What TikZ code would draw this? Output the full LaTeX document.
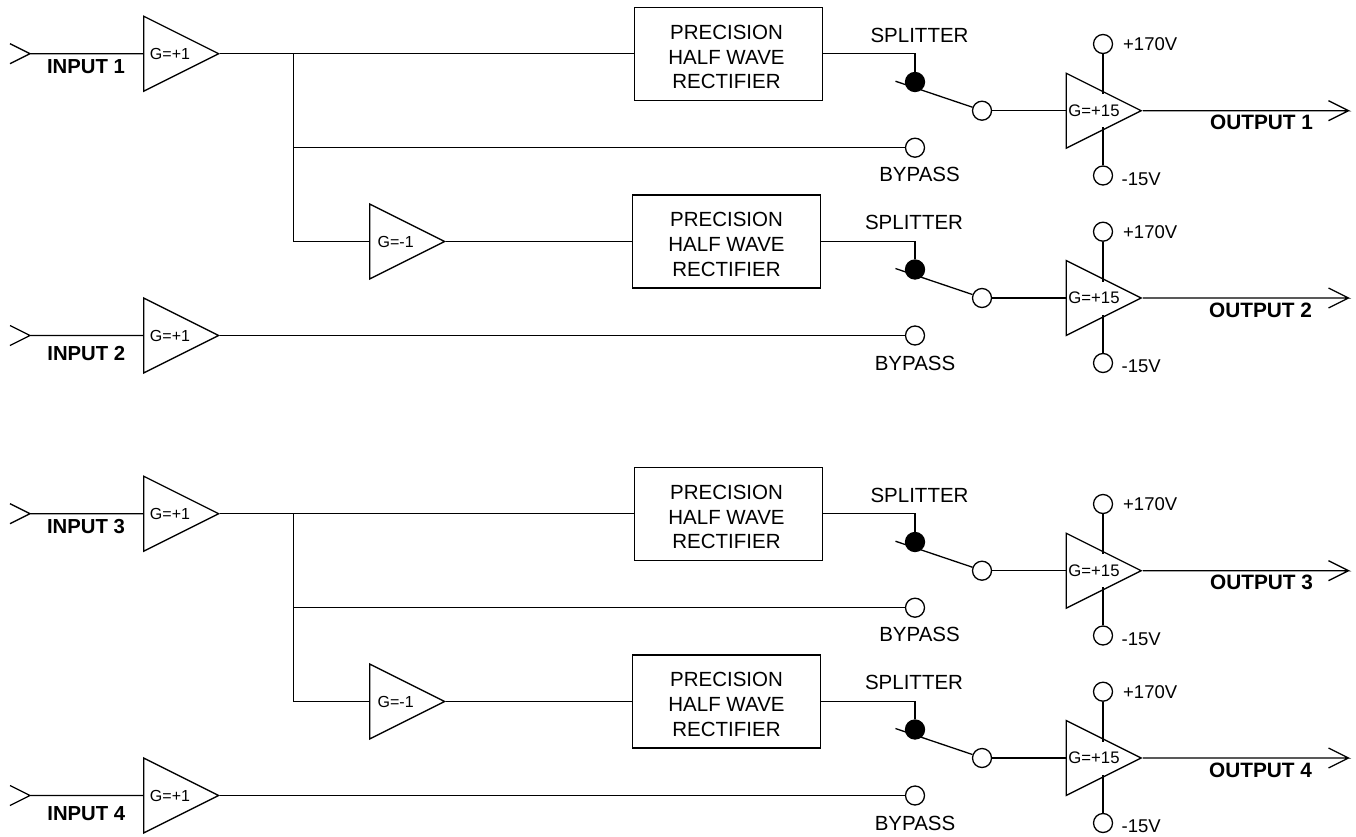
\documentclass[tikz,border=0pt]{standalone}
\usepackage{fontspec}
\setmainfont{Liberation Sans}
\usetikzlibrary{shapes.geometric}

\tikzset{
	amp/.style={isosceles triangle, isosceles triangle stretches, draw, fill=white, inner sep=0pt, minimum width=75pt, minimum height=75pt, anchor=lower side},
	gain/.style={font=\fontsize{16}{18}\selectfont, inner sep=0pt},
	drvgain/.style={font=\fontsize{16.7}{18}\selectfont, inner sep=0pt},
	rectifier/.style={rectangle, draw, minimum width=188pt, minimum height=93pt, inner sep=0pt},
	recttext/.style={align=center, inner sep=0pt, font=\fontsize{20.5}{24.7}\selectfont},
	terminal/.style={circle, draw, fill=white, minimum size=19pt, inner sep=0pt},
	contact/.style={terminal, fill=black},
	tag/.style={font=\fontsize{20.5}{24}\selectfont, inner sep=0pt},
	supply/.style={font=\fontsize{18.5}{22}\selectfont, inner sep=0pt, anchor=west},
	intag/.style={font=\fontsize{20.3}{24}\selectfont\bfseries, inner sep=0pt},
	outtag/.style={font=\fontsize{20.8}{24}\selectfont\bfseries, inner sep=0pt},
}

\begin{document}
\begin{tikzpicture}[x=1pt, y=-1pt, line width=1.3pt]
	\useasboundingbox (0, 0) rectangle (1356, 837);
	\foreach \yo/\ia/\ib in {0/1/2, 460/3/4} {
		% first input, rectifier channel and its output
		\coordinate (in\ia) at (30, \yo+53.7);
		\coordinate (junc\ia) at (293.3, \yo+53.7);
		\coordinate (out\ia) at (1348.5, \yo+110.7);
		\node [amp] (buf\ia) at (143, \yo+53.7) {};
		\node [gain] (gbuf\ia) at (170, \yo+53.7) {G=+1};
		\node [intag] (lin\ia) at (86, \yo+66.5) {INPUT \ia};
		\node [rectifier] (rect\ia) at (728.5, \yo+53.7) {};
		\node [recttext] (trect\ia) at (726.5, \yo+57) {PRECISION\\HALF WAVE\\RECTIFIER};
		\node [tag] (spl\ia) at (919.5, \yo+35) {SPLITTER};
		\node [terminal] (sw\ia) at (982, \yo+110.7) {};
		\draw (sw\ia.160) -- ++(-77, -26);
		\node [contact] (dot\ia) at (915, \yo+82) {};
		\node [terminal] (byp\ia) at (915, \yo+147.7) {};
		\node [tag] (lbyp\ia) at (919.5, \yo+174.5) {BYPASS};
		\node [amp] (drv\ia) at (1065.5, \yo+110.7) {};
		\node [drvgain] (gdrv\ia) at (1094, \yo+110.7) {G=+15};
		\node [terminal] (vp\ia) at (1103, \yo+44) {};
		\node [terminal] (vm\ia) at (1103, \yo+175.5) {};
		\node [supply] (lvp\ia) at (1122.5, \yo+44) {+170V};
		\node [supply] (lvm\ia) at (1121, \yo+179.5) {-15V};
		\node [outtag] (lout\ia) at (1261.5, \yo+122.5) {OUTPUT \ia};
		\draw (in\ia) -- ++(-20, -10) (in\ia) -- ++(-20, 10) (in\ia) -- (buf\ia.lower side);
		\draw (buf\ia.apex) -- (rect\ia.west);
		\draw (rect\ia.east) -| (dot\ia.north);
		\draw (sw\ia.east) -- (drv\ia.lower side);
		\draw (drv\ia.apex) -- (out\ia) -- ++(-20, -10) (out\ia) -- ++(-20, 10);
		\draw (vp\ia.south) -- ++(0, 40);
		\draw (vm\ia.north) -- ++(0, -38);
		\draw (junc\ia) |- (byp\ia.west);
		% inverted channel, second input and its output
		\coordinate (in\ib) at (30, \yo+335.5);
		\coordinate (out\ib) at (1348.5, \yo+298);
		\node [amp] (inv\ia) at (369, \yo+241.5) {};
		\node [gain] (ginv\ia) at (395.7, \yo+241.5) {G=-1};
		\node [rectifier] (rect\ib) at (726.7, \yo+241.5) {};
		\node [recttext] (trect\ib) at (726.5, \yo+244.5) {PRECISION\\HALF WAVE\\RECTIFIER};
		\node [tag] (spl\ib) at (914, \yo+222.5) {SPLITTER};
		\node [terminal] (sw\ib) at (982, \yo+298) {};
		\draw (sw\ib.160) -- ++(-77, -26);
		\node [contact] (dot\ib) at (915, \yo+269.5) {};
		\node [terminal] (byp\ib) at (915, \yo+335.5) {};
		\node [tag] (lbyp\ib) at (915, \yo+363) {BYPASS};
		\node [amp] (drv\ib) at (1065.5, \yo+298) {};
		\node [drvgain] (gdrv\ib) at (1094, \yo+297.5) {G=+15};
		\node [terminal] (vp\ib) at (1103, \yo+231.7) {};
		\node [terminal] (vm\ib) at (1103, \yo+363) {};
		\node [supply] (lvp\ib) at (1122.5, \yo+231.7) {+170V};
		\node [supply] (lvm\ib) at (1121, \yo+366.7) {-15V};
		\node [outtag] (lout\ib) at (1260.5, \yo+310.7) {OUTPUT \ib};
		\node [amp] (buf\ib) at (143, \yo+335.5) {};
		\node [gain] (gbuf\ib) at (170, \yo+335.5) {G=+1};
		\node [intag] (lin\ib) at (86.3, \yo+354) {INPUT \ib};
		\draw (junc\ia) |- (inv\ia.lower side);
		\draw (inv\ia.apex) -- (rect\ib.west);
		\draw (rect\ib.east) -| (dot\ib.north);
		\draw (sw\ib.east) -- (drv\ib.lower side);
		\draw (drv\ib.apex) -- (out\ib) -- ++(-20, -10) (out\ib) -- ++(-20, 10);
		\draw (vp\ib.south) -- ++(0, 40);
		\draw (vm\ib.north) -- ++(0, -38);
		\draw (in\ib) -- ++(-20, -10) (in\ib) -- ++(-20, 10) (in\ib) -- (buf\ib.lower side);
		\draw (buf\ib.apex) -- (byp\ib.west);
	}
\end{tikzpicture}
\end{document}
